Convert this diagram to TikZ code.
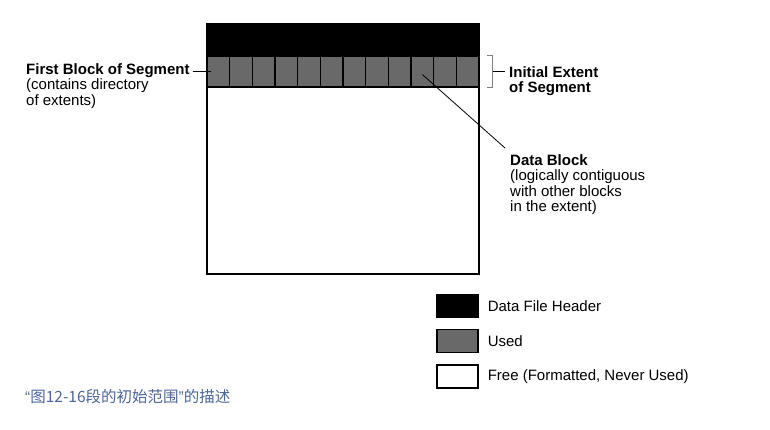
\documentclass[tikz,border=0pt]{standalone}
\usepackage{fontspec}
\setmainfont{Liberation Sans}
\newfontfamily\cjk{Noto Sans CJK SC}
\usepackage{tikz}
\usetikzlibrary{calc,positioning}
\definecolor{usedgray}{HTML}{696969}
\definecolor{capblue}{HTML}{4A6698}

\begin{document}
\begin{tikzpicture}[x=1pt,y=-1pt]
  \tikzset{
    cell/.style={draw=black, line width=1.6pt, fill=usedgray,
      minimum width=22.67pt, minimum height=31pt, inner sep=0pt},
    keybox/.style={draw=black, line width=1.2pt,
      minimum width=41pt, minimum height=23pt, inner sep=0pt},
    lbl/.style={font=\fontsize{15}{15.5}\selectfont, align=left,
      inner sep=0pt},
    keytext/.style={font=\fontsize{15}{15.5}\selectfont, inner sep=0pt},
    lead/.style={line width=0.8pt},
  }
  \useasboundingbox (0,0) rectangle (770,430);

  % data file
  \fill[black] (207,24) rectangle (479,56);
  \foreach \i in {1,...,12}
    \node[cell] (cell\i) at ({207+(\i-0.5)*22.667},71.5) {};
  \draw[line width=1.5pt] (207,24) rectangle (479,274);

  % labels
  \node[lbl, anchor=north west] (first) at (26,63)
    {\textbf{First Block of Segment}\\(contains directory\\of extents)};
  \draw[lead, shorten <=3pt] (first.north east |- cell1.west)
    -- ($(cell1.west)+(5,0)$);

  \node[lbl, anchor=north west] (extent) at (509,66)
    {\textbf{Initial Extent}\\\textbf{of Segment}};
  \draw[lead, gray] ($(cell12.north east)+(7,0)$) -- ++(6,0)
    |- ($(cell12.south east)+(7,0)$);
  \draw[lead, shorten >=4pt] ($(cell12.east)+(13,0)$)
    -- (extent.west |- cell12.east);

  \node[lbl, anchor=north west] (datablk) at (510,154)
    {\textbf{Data Block}\\(logically contiguous\\with other blocks\\in the extent)};
  \draw[lead] ($(cell10.center)+(0,3)$) -- ($(datablk.north west)+(-5,-6)$);

  % legend
  \node[keybox, fill=black] (kheader) at (457.5,306) {};
  \node[keybox, fill=usedgray, below=11pt of kheader] (kused) {};
  \node[keybox, fill=white, below=11pt of kused] (kfree) {};
  \node[keytext, right=9pt of kheader] {Data File Header};
  \node[keytext, right=9pt of kused] {Used};
  \node[keytext, right=9pt of kfree] {Free (Formatted, Never Used)};

  % caption
  \node[anchor=west, inner sep=0pt, text=capblue,
    font=\cjk\fontsize{15.5}{17}\selectfont] (caption) at (25,397)
    {{\normalfont“}图12-16段的初始范围{\normalfont”}的描述};
\end{tikzpicture}
\end{document}
